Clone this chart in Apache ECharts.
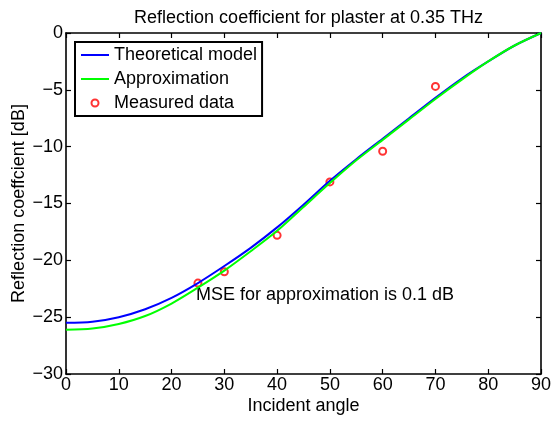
<!DOCTYPE html>
<html>
<head>
<meta charset="utf-8">
<script src="https://cdn.jsdelivr.net/npm/echarts@6/dist/echarts.min.js"></script>
<style>html,body{margin:0;padding:0;background:#fff}#c{width:560px;height:421px}</style>
</head>
<body>
<div id="c"></div>
<script>
const angles = [0,5,10,15,20,25,30,35,40,45,50,55,60,65,70,75,80,85,90];
const theoretical = [-25.5,-25.4,-25.0,-24.3,-23.3,-22.0,-20.5,-18.9,-17.1,-15.1,-13.0,-11.1,-9.3,-7.5,-5.7,-4.0,-2.5,-1.1,0];
const approximation = [-26.1,-26.0,-25.6,-24.9,-23.8,-22.4,-20.9,-19.2,-17.4,-15.3,-13.2,-11.2,-9.4,-7.6,-5.8,-4.1,-2.5,-1.1,0];
const measuredAngles = [25,30,40,50,60,70];
const measuredDb = [-22.0,-21.0,-17.8,-13.1,-10.4,-4.7];
const seriesNames = ['Theoretical model','Approximation','Measured data'];
const titleText = 'Reflection coefficient for plaster at 0.35 THz';
const xLabel = 'Incident angle';
const yLabel = 'Reflection coeffcient [dB]';
const note = 'MSE for approximation is 0.1 dB';

const FONT = '"Liberation Sans", Arial, Helvetica, sans-serif';
const FS = 18;
const chart = echarts.init(document.getElementById('c'), null, {renderer:'canvas'});
const minus = v => String(v).replace('-', '\u2212');
const gridL = 66, gridR = 19, gridT = 33, gridB = 47;

const axisCommon = {
  axisLine: {show: true, onZero: false, lineStyle: {color: '#000', width: 1.6}},
  axisTick: {show: true, inside: true, length: 5, lineStyle: {color: '#000', width: 1.2}},
  splitLine: {show: false}
};

chart.setOption({
  animation: false,
  backgroundColor: '#fff',
  textStyle: {fontFamily: FONT},
  title: {text: titleText, left: 303.5, textAlign: 'center', top: 4,
    textStyle: {fontSize: FS, fontWeight: 'normal', color: '#000', fontFamily: FONT}},
  grid: {left: gridL, right: gridR, top: gridT, bottom: gridB, containLabel: false, outerBoundsMode: 'none'},
  legend: {
    left: 75, top: 42, orient: 'vertical',
    borderColor: '#000', borderWidth: 2, padding: [4, 5, 4, 5],
    itemWidth: 28, itemHeight: 7, itemGap: 6,
    textStyle: {fontSize: FS, color: '#000', fontFamily: FONT},
    data: [
      {name: seriesNames[0], itemStyle: {opacity: 0}},
      {name: seriesNames[1], itemStyle: {opacity: 0}},
      {name: seriesNames[2]}
    ]
  },
  xAxis: [
    Object.assign({type: 'value', min: 0, max: 90, interval: 10, position: 'bottom',
      name: xLabel, nameLocation: 'middle', nameGap: 23, nameMoveOverlap: false,
      nameTextStyle: {fontSize: FS, color: '#000', fontFamily: FONT},
      axisLabel: {fontSize: FS, color: '#000', margin: 2, fontFamily: FONT}}, axisCommon),
    Object.assign({type: 'value', min: 0, max: 90, interval: 10, position: 'top',
      axisLabel: {show: false}}, axisCommon)
  ],
  yAxis: [
    Object.assign({type: 'value', min: -30, max: 0, interval: 5, position: 'left',
      name: yLabel, nameLocation: 'middle', nameGap: 38, nameRotate: 90, nameMoveOverlap: false,
      nameTextStyle: {fontSize: FS, color: '#000', fontFamily: FONT},
      axisLabel: {fontSize: FS, color: '#000', margin: 3, fontFamily: FONT, formatter: minus}}, axisCommon),
    Object.assign({type: 'value', min: -30, max: 0, interval: 5, position: 'right',
      axisLabel: {show: false}}, axisCommon)
  ],
  graphic: [{type: 'text', left: 196, top: 286,
    style: {text: note, fontSize: FS, fill: '#000', fontFamily: FONT}}],
  series: [
    {name: seriesNames[0], type: 'line', symbol: 'none', smooth: 0.3,
      lineStyle: {color: '#0000ff', width: 2}, itemStyle: {color: '#0000ff'},
      data: angles.map((a, i) => [a, theoretical[i]])},
    {name: seriesNames[1], type: 'line', symbol: 'none', smooth: 0.3,
      lineStyle: {color: '#00ff00', width: 2}, itemStyle: {color: '#00ff00'},
      data: angles.map((a, i) => [a, approximation[i]])},
    {name: seriesNames[2], type: 'scatter', symbol: 'circle', symbolSize: 7,
      itemStyle: {color: 'rgba(255,255,255,0)', borderColor: '#ff0000', borderWidth: 2},
      data: measuredAngles.map((a, i) => [a, measuredDb[i]])}
  ]
});
</script>
</body>
</html>
